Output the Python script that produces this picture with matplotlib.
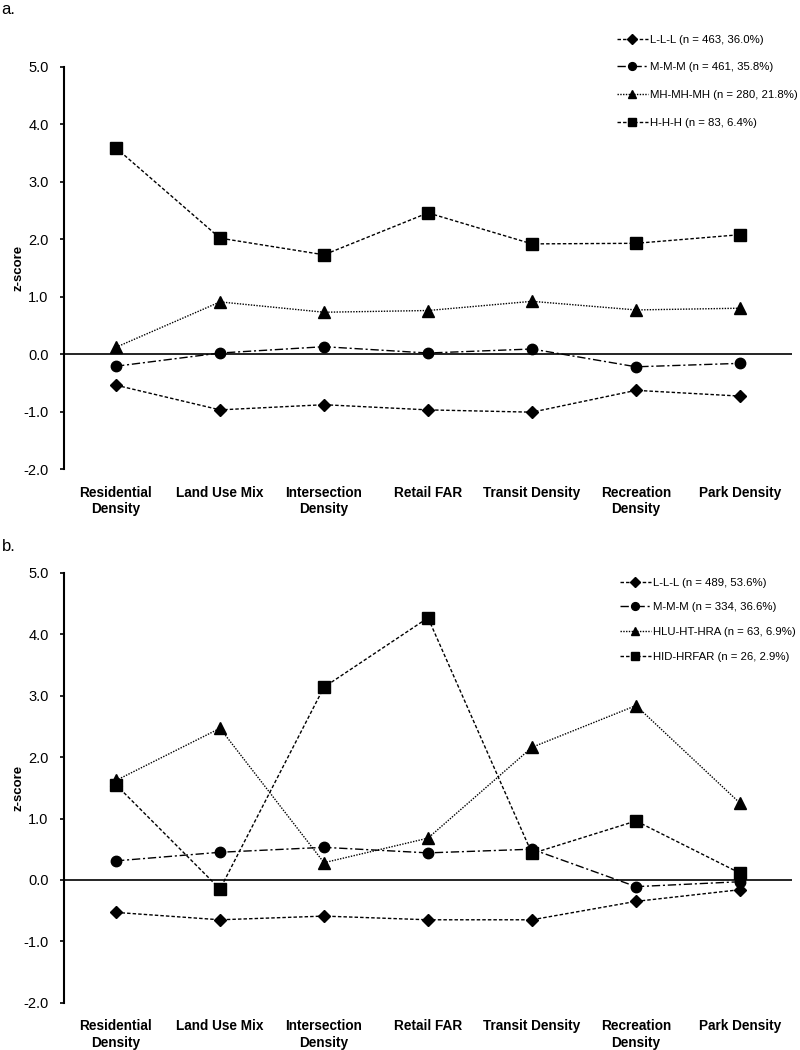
import numpy as np
import matplotlib
matplotlib.use("Agg")
import matplotlib.pyplot as plt

plt.rcParams["font.family"] = ["Liberation Sans", "DejaVu Sans"]

categories = ["Residential\nDensity", "Land Use Mix", "Intersection\nDensity",
              "Retail FAR", "Transit Density", "Recreation\nDensity", "Park Density"]

# panel a
a_labels = ["L-L-L (n = 463, 36.0%)", "M-M-M (n = 461, 35.8%)",
            "MH-MH-MH (n = 280, 21.8%)", "H-H-H (n = 83, 6.4%)"]
a_lll = [-0.54, -0.97, -0.88, -0.97, -1.01, -0.63, -0.73]
a_mmm = [-0.21, 0.02, 0.13, 0.02, 0.09, -0.22, -0.16]
a_mh = [0.12, 0.91, 0.73, 0.76, 0.92, 0.77, 0.80]
a_hhh = [3.59, 2.02, 1.73, 2.46, 1.92, 1.93, 2.08]

# panel b
b_labels = ["L-L-L (n = 489, 53.6%)", "M-M-M (n = 334, 36.6%)",
            "HLU-HT-HRA (n = 63, 6.9%)", "HID-HRFAR (n = 26, 2.9%)"]
b_lll = [-0.53, -0.65, -0.59, -0.65, -0.65, -0.35, -0.16]
b_mmm = [0.31, 0.45, 0.53, 0.44, 0.50, -0.11, -0.03]
b_hlu = [1.62, 2.47, 0.28, 0.68, 2.16, 2.84, 1.25]
b_hid = [1.55, -0.15, 3.14, 4.27, 0.43, 0.96, 0.11]

# marker, linestyle, markersize
STYLES = [
    ("D", (0, (2.5, 1.5)), 6.5),
    ("o", (0, (6, 2, 1.5, 2)), 7.5),
    ("^", (0, (1, 1)), 8),
    ("s", (0, (2.5, 1.5)), 8.5),
]


def draw_panel(ax, series, labels, legend_anchor, spacing):
    x = np.arange(len(categories))
    for vals, lab, (mk, ls, ms) in zip(series, labels, STYLES):
        ax.plot(x, vals, color="black", lw=1.0, ls=ls, marker=mk, ms=ms,
                markeredgecolor="black", label=lab)
    ax.axhline(0, color="black", lw=1.2, zorder=0.5)
    ax.set_xlim(-0.5, 6.5)
    ax.set_ylim(-2, 5)
    ticks = np.arange(-2, 5.1, 1)
    ax.set_yticks(ticks)
    ax.set_yticklabels([f"{v:.1f}" for v in ticks], fontsize=10.5)
    ax.set_xticks(x)
    ax.set_xticklabels(categories, fontsize=9.8, fontweight="bold")
    ax.tick_params(axis="x", length=0, pad=12)
    ax.tick_params(axis="y", direction="out", length=3, width=1.2, pad=8)
    for s in ["top", "right", "bottom"]:
        ax.spines[s].set_visible(False)
    ax.spines["left"].set_linewidth(1.5)
    ax.set_ylabel("z-score", fontsize=9.5, fontweight="bold", labelpad=-1)
    ax.legend(loc="upper left", bbox_to_anchor=legend_anchor,
              bbox_transform=ax.figure.transFigure, frameon=False,
              fontsize=8.2, handlelength=2.7, handletextpad=0.2,
              markerscale=0.75, labelspacing=spacing,
              borderaxespad=0, borderpad=0)


fig = plt.figure(figsize=(8, 10.5), dpi=100)
fig.patch.set_facecolor("white")

ax_a = fig.add_axes([0.08, 0.5533, 0.91, 0.3829])
ax_b = fig.add_axes([0.08, 0.0451, 0.91, 0.4092])

draw_panel(ax_a, [a_lll, a_mmm, a_mh, a_hhh], a_labels, (0.771, 0.967), 1.55)
draw_panel(ax_b, [b_lll, b_mmm, b_hlu, b_hid], b_labels, (0.775, 0.450), 1.3)

fig.text(0.002, 0.998, "a.", fontsize=12, va="top", ha="left")
fig.text(0.002, 0.487, "b.", fontsize=12, va="top", ha="left")

fig.savefig("out.png", dpi=100, facecolor="white")
plt.close(fig)
